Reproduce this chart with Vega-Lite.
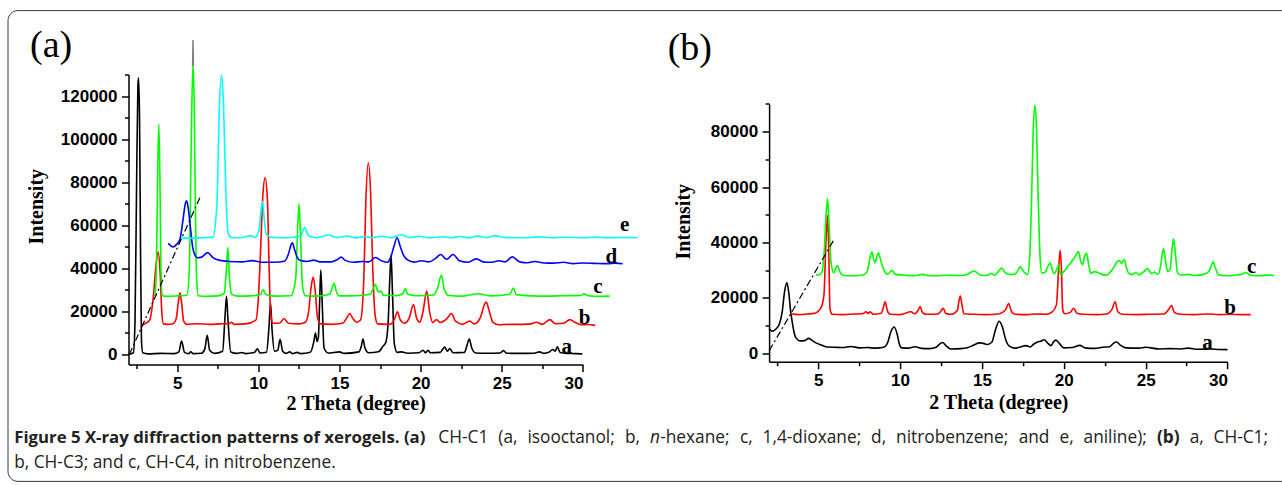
{
  "$schema": "https://vega.github.io/schema/vega-lite/v6.json",
  "padding": {"left": 7.5, "top": 9.5, "right": -2, "bottom": 0},
  "background": "white",
  "bounds": "flush",
  "spacing": 185.6,
  "config": {
    "view": {"stroke": null},
    "axis": {
      "grid": false, "domainColor": "black", "domainWidth": 1.5,
      "tickColor": "black", "tickWidth": 1.5,
      "labelFont": "Liberation Sans", "labelFontWeight": 700, "labelFontSize": 17, "labelColor": "black",
      "titleFont": "Liberation Serif", "titleFontWeight": "bold", "titleFontSize": 20, "titleColor": "black"
    }
  },
  "datasets": {
    "A": [
      {"s":"a","t":2.0,"v":0},{"s":"a","t":2.3,"v":800},{"s":"a","t":2.4,"v":15000},{"s":"a","t":2.5,"v":80000},{"s":"a","t":2.58,"v":125000},{"s":"a","t":2.62,"v":128500},{"s":"a","t":2.68,"v":110000},{"s":"a","t":2.74,"v":50000},{"s":"a","t":2.8,"v":6000},{"s":"a","t":2.88,"v":800},{"s":"a","t":3.2,"v":300},{"s":"a","t":4.0,"v":500},{"s":"a","t":4.8,"v":400},{"s":"a","t":5.1,"v":1200},{"s":"a","t":5.27,"v":6200},{"s":"a","t":5.45,"v":1000},{"s":"a","t":5.7,"v":400},{"s":"a","t":5.84,"v":1300},{"s":"a","t":5.98,"v":400},{"s":"a","t":6.5,"v":600},{"s":"a","t":6.7,"v":2500},{"s":"a","t":6.85,"v":8900},{"s":"a","t":7.0,"v":2000},{"s":"a","t":7.3,"v":500},{"s":"a","t":7.8,"v":1500},{"s":"a","t":7.95,"v":18000},{"s":"a","t":8.04,"v":27000},{"s":"a","t":8.13,"v":16000},{"s":"a","t":8.3,"v":1200},{"s":"a","t":8.7,"v":500},{"s":"a","t":8.96,"v":900},{"s":"a","t":9.2,"v":400},{"s":"a","t":9.75,"v":900},{"s":"a","t":9.95,"v":2600},{"s":"a","t":10.1,"v":700},{"s":"a","t":10.5,"v":1000},{"s":"a","t":10.65,"v":12000},{"s":"a","t":10.75,"v":24000},{"s":"a","t":10.85,"v":11000},{"s":"a","t":11.0,"v":1500},{"s":"a","t":11.2,"v":2000},{"s":"a","t":11.34,"v":7000},{"s":"a","t":11.5,"v":1500},{"s":"a","t":11.7,"v":500},{"s":"a","t":11.94,"v":1200},{"s":"a","t":12.1,"v":400},{"s":"a","t":12.4,"v":1000},{"s":"a","t":12.6,"v":400},{"s":"a","t":13.2,"v":1000},{"s":"a","t":13.42,"v":6000},{"s":"a","t":13.52,"v":10000},{"s":"a","t":13.62,"v":6000},{"s":"a","t":13.7,"v":8000},{"s":"a","t":13.78,"v":25000},{"s":"a","t":13.85,"v":39200},{"s":"a","t":13.93,"v":25000},{"s":"a","t":14.05,"v":3000},{"s":"a","t":14.3,"v":700},{"s":"a","t":15.0,"v":1200},{"s":"a","t":15.3,"v":500},{"s":"a","t":16.2,"v":1200},{"s":"a","t":16.35,"v":4000},{"s":"a","t":16.45,"v":7200},{"s":"a","t":16.57,"v":3000},{"s":"a","t":16.8,"v":800},{"s":"a","t":17.4,"v":1300},{"s":"a","t":17.7,"v":4000},{"s":"a","t":17.85,"v":5500},{"s":"a","t":18.0,"v":15000},{"s":"a","t":18.1,"v":35000},{"s":"a","t":18.18,"v":46000},{"s":"a","t":18.26,"v":30000},{"s":"a","t":18.38,"v":5000},{"s":"a","t":18.55,"v":1000},{"s":"a","t":18.8,"v":1200},{"s":"a","t":19.2,"v":600},{"s":"a","t":19.9,"v":800},{"s":"a","t":20.15,"v":2000},{"s":"a","t":20.3,"v":800},{"s":"a","t":20.45,"v":2000},{"s":"a","t":20.6,"v":800},{"s":"a","t":21.2,"v":1000},{"s":"a","t":21.49,"v":3400},{"s":"a","t":21.65,"v":1500},{"s":"a","t":21.8,"v":2800},{"s":"a","t":22.0,"v":800},{"s":"a","t":22.7,"v":1000},{"s":"a","t":22.85,"v":4000},{"s":"a","t":23.0,"v":7200},{"s":"a","t":23.15,"v":3000},{"s":"a","t":23.4,"v":700},{"s":"a","t":24.0,"v":600},{"s":"a","t":24.9,"v":700},{"s":"a","t":25.11,"v":1800},{"s":"a","t":25.3,"v":600},{"s":"a","t":26.0,"v":500},{"s":"a","t":27.0,"v":600},{"s":"a","t":27.33,"v":1200},{"s":"a","t":27.6,"v":500},{"s":"a","t":27.9,"v":1000},{"s":"a","t":28.15,"v":2300},{"s":"a","t":28.3,"v":1500},{"s":"a","t":28.42,"v":3600},{"s":"a","t":28.6,"v":900},{"s":"a","t":29.0,"v":500},{"s":"a","t":29.5,"v":400},{"s":"a","t":29.96,"v":300},

      {"s":"b","t":2.75,"v":13300},{"s":"b","t":3.0,"v":14200},{"s":"b","t":3.3,"v":16000},{"s":"b","t":3.52,"v":26000},{"s":"b","t":3.7,"v":42000},{"s":"b","t":3.83,"v":47700},{"s":"b","t":3.95,"v":38000},{"s":"b","t":4.05,"v":20000},{"s":"b","t":4.15,"v":14200},{"s":"b","t":4.4,"v":14000},{"s":"b","t":4.75,"v":14300},{"s":"b","t":4.95,"v":17000},{"s":"b","t":5.08,"v":25000},{"s":"b","t":5.17,"v":28600},{"s":"b","t":5.27,"v":24000},{"s":"b","t":5.4,"v":15500},{"s":"b","t":5.6,"v":14000},{"s":"b","t":6.2,"v":14300},{"s":"b","t":7.0,"v":14000},{"s":"b","t":7.6,"v":14200},{"s":"b","t":8.2,"v":14300},{"s":"b","t":8.34,"v":15000},{"s":"b","t":8.5,"v":14000},{"s":"b","t":9.2,"v":14200},{"s":"b","t":9.85,"v":16000},{"s":"b","t":10.0,"v":26000},{"s":"b","t":10.12,"v":45000},{"s":"b","t":10.28,"v":74000},{"s":"b","t":10.42,"v":82000},{"s":"b","t":10.56,"v":72000},{"s":"b","t":10.66,"v":42000},{"s":"b","t":10.76,"v":19000},{"s":"b","t":10.9,"v":14500},{"s":"b","t":11.3,"v":14500},{"s":"b","t":11.59,"v":16700},{"s":"b","t":11.85,"v":14500},{"s":"b","t":12.5,"v":14200},{"s":"b","t":12.9,"v":15000},{"s":"b","t":13.1,"v":20000},{"s":"b","t":13.25,"v":31000},{"s":"b","t":13.38,"v":35900},{"s":"b","t":13.5,"v":30000},{"s":"b","t":13.65,"v":17000},{"s":"b","t":13.85,"v":14200},{"s":"b","t":14.5,"v":14000},{"s":"b","t":15.2,"v":14500},{"s":"b","t":15.45,"v":17000},{"s":"b","t":15.63,"v":19000},{"s":"b","t":15.8,"v":17000},{"s":"b","t":16.05,"v":15000},{"s":"b","t":16.3,"v":16000},{"s":"b","t":16.5,"v":35000},{"s":"b","t":16.62,"v":70000},{"s":"b","t":16.78,"v":89000},{"s":"b","t":16.92,"v":75000},{"s":"b","t":17.05,"v":40000},{"s":"b","t":17.2,"v":18000},{"s":"b","t":17.35,"v":14200},{"s":"b","t":18.0,"v":14000},{"s":"b","t":18.2,"v":14300},{"s":"b","t":18.4,"v":16500},{"s":"b","t":18.57,"v":19800},{"s":"b","t":18.75,"v":16000},{"s":"b","t":19.0,"v":14500},{"s":"b","t":19.3,"v":17000},{"s":"b","t":19.56,"v":23200},{"s":"b","t":19.75,"v":17000},{"s":"b","t":19.95,"v":15000},{"s":"b","t":20.15,"v":20000},{"s":"b","t":20.38,"v":29400},{"s":"b","t":20.55,"v":20000},{"s":"b","t":20.75,"v":14800},{"s":"b","t":20.98,"v":16200},{"s":"b","t":21.2,"v":14800},{"s":"b","t":21.6,"v":16500},{"s":"b","t":21.9,"v":19000},{"s":"b","t":22.15,"v":15500},{"s":"b","t":22.6,"v":14000},{"s":"b","t":23.03,"v":15500},{"s":"b","t":23.3,"v":14200},{"s":"b","t":23.7,"v":17500},{"s":"b","t":23.92,"v":23000},{"s":"b","t":24.05,"v":24300},{"s":"b","t":24.2,"v":21000},{"s":"b","t":24.45,"v":15000},{"s":"b","t":24.8,"v":13800},{"s":"b","t":25.5,"v":14000},{"s":"b","t":26.3,"v":14000},{"s":"b","t":26.8,"v":14200},{"s":"b","t":27.14,"v":15000},{"s":"b","t":27.5,"v":14000},{"s":"b","t":27.96,"v":16200},{"s":"b","t":28.3,"v":14300},{"s":"b","t":28.8,"v":14500},{"s":"b","t":29.2,"v":16200},{"s":"b","t":29.5,"v":15000},{"s":"b","t":29.9,"v":13800},{"s":"b","t":30.3,"v":13900},{"s":"b","t":30.76,"v":13500},

      {"s":"c","t":3.63,"v":27100},{"s":"c","t":3.72,"v":40000},{"s":"c","t":3.8,"v":85000},{"s":"c","t":3.87,"v":107000},{"s":"c","t":3.94,"v":80000},{"s":"c","t":4.0,"v":40000},{"s":"c","t":4.08,"v":27500},{"s":"c","t":4.3,"v":27000},{"s":"c","t":5.0,"v":27200},{"s":"c","t":5.6,"v":27500},{"s":"c","t":5.75,"v":40000},{"s":"c","t":5.85,"v":90000},{"s":"c","t":5.97,"v":135500},{"s":"c","t":6.05,"v":115000},{"s":"c","t":6.12,"v":70000},{"s":"c","t":6.2,"v":35000},{"s":"c","t":6.3,"v":27300},{"s":"c","t":6.8,"v":27000},{"s":"c","t":7.5,"v":27200},{"s":"c","t":7.9,"v":28500},{"s":"c","t":8.02,"v":38000},{"s":"c","t":8.12,"v":49600},{"s":"c","t":8.22,"v":36000},{"s":"c","t":8.35,"v":28000},{"s":"c","t":8.7,"v":27100},{"s":"c","t":9.5,"v":27200},{"s":"c","t":10.15,"v":28000},{"s":"c","t":10.3,"v":30200},{"s":"c","t":10.45,"v":27800},{"s":"c","t":11.0,"v":27100},{"s":"c","t":12.0,"v":27300},{"s":"c","t":12.3,"v":35000},{"s":"c","t":12.43,"v":60000},{"s":"c","t":12.51,"v":70000},{"s":"c","t":12.6,"v":55000},{"s":"c","t":12.72,"v":32000},{"s":"c","t":12.9,"v":27300},{"s":"c","t":13.5,"v":27100},{"s":"c","t":14.4,"v":28000},{"s":"c","t":14.55,"v":31000},{"s":"c","t":14.67,"v":33000},{"s":"c","t":14.8,"v":29500},{"s":"c","t":15.0,"v":27200},{"s":"c","t":16.0,"v":27300},{"s":"c","t":16.9,"v":28000},{"s":"c","t":17.1,"v":31000},{"s":"c","t":17.22,"v":32500},{"s":"c","t":17.38,"v":29000},{"s":"c","t":17.54,"v":29500},{"s":"c","t":17.7,"v":27500},{"s":"c","t":18.5,"v":27300},{"s":"c","t":18.9,"v":28200},{"s":"c","t":19.06,"v":30600},{"s":"c","t":19.2,"v":28000},{"s":"c","t":19.8,"v":27300},{"s":"c","t":20.8,"v":27600},{"s":"c","t":21.05,"v":31000},{"s":"c","t":21.28,"v":36900},{"s":"c","t":21.45,"v":30500},{"s":"c","t":21.7,"v":27500},{"s":"c","t":22.5,"v":27100},{"s":"c","t":23.54,"v":28200},{"s":"c","t":24.3,"v":27200},{"s":"c","t":25.5,"v":28000},{"s":"c","t":25.71,"v":30800},{"s":"c","t":25.9,"v":27800},{"s":"c","t":26.8,"v":27200},{"s":"c","t":27.8,"v":27100},{"s":"c","t":28.8,"v":27300},{"s":"c","t":29.9,"v":27400},{"s":"c","t":30.06,"v":28200},{"s":"c","t":30.3,"v":27300},{"s":"c","t":31.0,"v":27000},{"s":"c","t":31.64,"v":27100},

      {"s":"d","t":4.45,"v":51600},{"s":"d","t":4.6,"v":50500},{"s":"d","t":4.75,"v":49900},{"s":"d","t":4.95,"v":51000},{"s":"d","t":5.17,"v":53500},{"s":"d","t":5.35,"v":62000},{"s":"d","t":5.5,"v":70000},{"s":"d","t":5.58,"v":71300},{"s":"d","t":5.68,"v":68000},{"s":"d","t":5.8,"v":60000},{"s":"d","t":5.95,"v":50000},{"s":"d","t":6.1,"v":46000},{"s":"d","t":6.24,"v":44900},{"s":"d","t":6.5,"v":45200},{"s":"d","t":6.87,"v":47300},{"s":"d","t":7.2,"v":45000},{"s":"d","t":7.63,"v":43700},{"s":"d","t":8.2,"v":43200},{"s":"d","t":9.0,"v":43000},{"s":"d","t":9.6,"v":43600},{"s":"d","t":10.3,"v":42800},{"s":"d","t":11.0,"v":42800},{"s":"d","t":11.6,"v":43300},{"s":"d","t":11.85,"v":46500},{"s":"d","t":12.02,"v":51000},{"s":"d","t":12.1,"v":51900},{"s":"d","t":12.22,"v":49000},{"s":"d","t":12.4,"v":45000},{"s":"d","t":12.6,"v":43600},{"s":"d","t":13.0,"v":43200},{"s":"d","t":13.4,"v":43800},{"s":"d","t":13.8,"v":43000},{"s":"d","t":14.5,"v":43000},{"s":"d","t":14.85,"v":44000},{"s":"d","t":15.1,"v":45200},{"s":"d","t":15.35,"v":43700},{"s":"d","t":15.9,"v":42800},{"s":"d","t":16.4,"v":43200},{"s":"d","t":16.8,"v":43000},{"s":"d","t":17.22,"v":45000},{"s":"d","t":17.6,"v":43500},{"s":"d","t":17.95,"v":42800},{"s":"d","t":18.15,"v":45000},{"s":"d","t":18.35,"v":50000},{"s":"d","t":18.55,"v":54200},{"s":"d","t":18.75,"v":50000},{"s":"d","t":18.95,"v":46000},{"s":"d","t":19.22,"v":43800},{"s":"d","t":19.6,"v":42900},{"s":"d","t":20.04,"v":43500},{"s":"d","t":20.5,"v":43000},{"s":"d","t":20.9,"v":44500},{"s":"d","t":21.24,"v":46400},{"s":"d","t":21.6,"v":44200},{"s":"d","t":22.0,"v":46400},{"s":"d","t":22.4,"v":43500},{"s":"d","t":22.9,"v":42800},{"s":"d","t":23.43,"v":44400},{"s":"d","t":23.9,"v":42900},{"s":"d","t":24.4,"v":42800},{"s":"d","t":24.81,"v":43500},{"s":"d","t":25.2,"v":43000},{"s":"d","t":25.65,"v":45300},{"s":"d","t":26.1,"v":43000},{"s":"d","t":26.6,"v":42600},{"s":"d","t":27.03,"v":43200},{"s":"d","t":27.6,"v":42500},{"s":"d","t":28.2,"v":42400},{"s":"d","t":28.8,"v":42800},{"s":"d","t":29.4,"v":42200},{"s":"d","t":30.0,"v":42500},{"s":"d","t":30.8,"v":42300},{"s":"d","t":31.5,"v":42200},{"s":"d","t":32.0,"v":42400},{"s":"d","t":32.45,"v":42100},

      {"s":"e","t":5.27,"v":54250},{"s":"e","t":5.8,"v":54000},{"s":"e","t":6.5,"v":54200},{"s":"e","t":7.2,"v":54500},{"s":"e","t":7.45,"v":70000},{"s":"e","t":7.6,"v":115000},{"s":"e","t":7.73,"v":129700},{"s":"e","t":7.86,"v":115000},{"s":"e","t":8.0,"v":75000},{"s":"e","t":8.15,"v":56000},{"s":"e","t":8.4,"v":54200},{"s":"e","t":9.0,"v":54300},{"s":"e","t":9.58,"v":55200},{"s":"e","t":9.8,"v":54300},{"s":"e","t":10.05,"v":58000},{"s":"e","t":10.18,"v":68000},{"s":"e","t":10.26,"v":71000},{"s":"e","t":10.35,"v":64000},{"s":"e","t":10.5,"v":55500},{"s":"e","t":10.9,"v":54300},{"s":"e","t":11.8,"v":54200},{"s":"e","t":12.6,"v":55000},{"s":"e","t":12.86,"v":58900},{"s":"e","t":13.1,"v":55000},{"s":"e","t":13.6,"v":54200},{"s":"e","t":14.36,"v":55500},{"s":"e","t":14.8,"v":54300},{"s":"e","t":15.5,"v":55000},{"s":"e","t":16.0,"v":54200},{"s":"e","t":16.6,"v":54800},{"s":"e","t":17.0,"v":54200},{"s":"e","t":17.6,"v":54900},{"s":"e","t":18.2,"v":54200},{"s":"e","t":18.8,"v":55600},{"s":"e","t":19.3,"v":54300},{"s":"e","t":19.9,"v":54900},{"s":"e","t":20.5,"v":54200},{"s":"e","t":21.4,"v":54700},{"s":"e","t":21.9,"v":54200},{"s":"e","t":22.4,"v":54800},{"s":"e","t":23.0,"v":54200},{"s":"e","t":23.5,"v":55000},{"s":"e","t":24.1,"v":54300},{"s":"e","t":24.6,"v":55200},{"s":"e","t":25.2,"v":54300},{"s":"e","t":26.5,"v":54200},{"s":"e","t":27.3,"v":54600},{"s":"e","t":28.0,"v":54200},{"s":"e","t":29.0,"v":54400},{"s":"e","t":30.0,"v":54200},{"s":"e","t":30.8,"v":54500},{"s":"e","t":31.5,"v":54200},{"s":"e","t":32.5,"v":54300},{"s":"e","t":33.35,"v":54200}
    ],
    "B": [
      {"s":"a","t":2.0,"v":9000},{"s":"a","t":2.1,"v":8300},{"s":"a","t":2.21,"v":8000},{"s":"a","t":2.4,"v":8700},{"s":"a","t":2.62,"v":10500},{"s":"a","t":2.8,"v":15000},{"s":"a","t":2.95,"v":22500},{"s":"a","t":3.09,"v":25500},{"s":"a","t":3.2,"v":22000},{"s":"a","t":3.32,"v":15000},{"s":"a","t":3.44,"v":10400},{"s":"a","t":3.55,"v":7000},{"s":"a","t":3.64,"v":5600},{"s":"a","t":3.9,"v":4500},{"s":"a","t":4.15,"v":4600},{"s":"a","t":4.41,"v":5400},{"s":"a","t":4.6,"v":4800},{"s":"a","t":4.86,"v":3800},{"s":"a","t":5.2,"v":3000},{"s":"a","t":5.57,"v":2300},{"s":"a","t":6.0,"v":2200},{"s":"a","t":6.5,"v":2100},{"s":"a","t":7.0,"v":2500},{"s":"a","t":7.5,"v":2000},{"s":"a","t":8.0,"v":2100},{"s":"a","t":8.5,"v":1900},{"s":"a","t":9.0,"v":2200},{"s":"a","t":9.25,"v":4000},{"s":"a","t":9.45,"v":8000},{"s":"a","t":9.64,"v":9500},{"s":"a","t":9.82,"v":7000},{"s":"a","t":9.95,"v":3500},{"s":"a","t":10.1,"v":2000},{"s":"a","t":10.5,"v":1900},{"s":"a","t":10.9,"v":2400},{"s":"a","t":11.3,"v":1800},{"s":"a","t":11.8,"v":1700},{"s":"a","t":12.2,"v":2200},{"s":"a","t":12.45,"v":3500},{"s":"a","t":12.6,"v":3900},{"s":"a","t":12.8,"v":2800},{"s":"a","t":13.1,"v":1600},{"s":"a","t":13.71,"v":1700},{"s":"a","t":14.1,"v":2000},{"s":"a","t":14.5,"v":3000},{"s":"a","t":14.84,"v":3800},{"s":"a","t":15.1,"v":3600},{"s":"a","t":15.34,"v":3200},{"s":"a","t":15.6,"v":4000},{"s":"a","t":15.85,"v":9000},{"s":"a","t":16.05,"v":11600},{"s":"a","t":16.25,"v":9500},{"s":"a","t":16.45,"v":5000},{"s":"a","t":16.67,"v":2600},{"s":"a","t":17.0,"v":1900},{"s":"a","t":17.4,"v":2400},{"s":"a","t":17.68,"v":2800},{"s":"a","t":17.95,"v":2300},{"s":"a","t":18.15,"v":3300},{"s":"a","t":18.4,"v":4100},{"s":"a","t":18.6,"v":4400},{"s":"a","t":18.8,"v":4900},{"s":"a","t":19.0,"v":3800},{"s":"a","t":19.21,"v":2800},{"s":"a","t":19.38,"v":4200},{"s":"a","t":19.51,"v":4800},{"s":"a","t":19.7,"v":3800},{"s":"a","t":20.0,"v":2000},{"s":"a","t":20.5,"v":2100},{"s":"a","t":20.98,"v":2900},{"s":"a","t":21.3,"v":2000},{"s":"a","t":21.9,"v":1800},{"s":"a","t":22.37,"v":2200},{"s":"a","t":22.8,"v":2400},{"s":"a","t":23.05,"v":3700},{"s":"a","t":23.22,"v":4100},{"s":"a","t":23.45,"v":3000},{"s":"a","t":23.8,"v":2000},{"s":"a","t":24.6,"v":1900},{"s":"a","t":25.0,"v":2200},{"s":"a","t":25.83,"v":1600},{"s":"a","t":26.5,"v":1700},{"s":"a","t":27.15,"v":1600},{"s":"a","t":27.6,"v":1900},{"s":"a","t":28.2,"v":1500},{"s":"a","t":29.0,"v":1600},{"s":"a","t":29.5,"v":1400},{"s":"a","t":30.0,"v":1350},

      {"s":"b","t":3.33,"v":14300},{"s":"b","t":3.8,"v":14000},{"s":"b","t":4.3,"v":14200},{"s":"b","t":4.8,"v":14500},{"s":"b","t":5.17,"v":16500},{"s":"b","t":5.35,"v":21000},{"s":"b","t":5.47,"v":40000},{"s":"b","t":5.57,"v":49800},{"s":"b","t":5.64,"v":38000},{"s":"b","t":5.72,"v":16000},{"s":"b","t":5.85,"v":14100},{"s":"b","t":6.5,"v":14000},{"s":"b","t":7.2,"v":14200},{"s":"b","t":7.7,"v":14300},{"s":"b","t":7.92,"v":15000},{"s":"b","t":8.05,"v":14400},{"s":"b","t":8.18,"v":15000},{"s":"b","t":8.35,"v":14100},{"s":"b","t":8.85,"v":14500},{"s":"b","t":8.98,"v":16500},{"s":"b","t":9.09,"v":18600},{"s":"b","t":9.22,"v":15500},{"s":"b","t":9.4,"v":14100},{"s":"b","t":10.0,"v":14000},{"s":"b","t":10.66,"v":15000},{"s":"b","t":10.9,"v":14300},{"s":"b","t":11.1,"v":15500},{"s":"b","t":11.23,"v":16900},{"s":"b","t":11.36,"v":14800},{"s":"b","t":11.6,"v":14100},{"s":"b","t":12.3,"v":14200},{"s":"b","t":12.5,"v":15300},{"s":"b","t":12.64,"v":16300},{"s":"b","t":12.78,"v":14500},{"s":"b","t":13.1,"v":14100},{"s":"b","t":13.5,"v":15500},{"s":"b","t":13.6,"v":19000},{"s":"b","t":13.68,"v":20700},{"s":"b","t":13.78,"v":17500},{"s":"b","t":13.9,"v":14300},{"s":"b","t":14.5,"v":14100},{"s":"b","t":15.2,"v":14000},{"s":"b","t":16.0,"v":14200},{"s":"b","t":16.45,"v":15800},{"s":"b","t":16.63,"v":18000},{"s":"b","t":16.8,"v":15200},{"s":"b","t":17.0,"v":14100},{"s":"b","t":17.8,"v":14000},{"s":"b","t":18.3,"v":14200},{"s":"b","t":18.9,"v":14100},{"s":"b","t":19.3,"v":15000},{"s":"b","t":19.55,"v":17500},{"s":"b","t":19.68,"v":30000},{"s":"b","t":19.78,"v":37200},{"s":"b","t":19.86,"v":30000},{"s":"b","t":19.93,"v":16000},{"s":"b","t":20.05,"v":14300},{"s":"b","t":20.4,"v":14800},{"s":"b","t":20.6,"v":16300},{"s":"b","t":20.8,"v":14500},{"s":"b","t":21.2,"v":14100},{"s":"b","t":22.0,"v":14000},{"s":"b","t":22.6,"v":14200},{"s":"b","t":22.95,"v":16000},{"s":"b","t":23.14,"v":18600},{"s":"b","t":23.3,"v":15000},{"s":"b","t":23.6,"v":14100},{"s":"b","t":24.5,"v":14000},{"s":"b","t":25.2,"v":14100},{"s":"b","t":26.1,"v":14200},{"s":"b","t":26.4,"v":15800},{"s":"b","t":26.58,"v":17300},{"s":"b","t":26.75,"v":14800},{"s":"b","t":27.1,"v":14100},{"s":"b","t":28.0,"v":14000},{"s":"b","t":28.8,"v":14200},{"s":"b","t":29.5,"v":14000},{"s":"b","t":30.2,"v":14100},{"s":"b","t":30.8,"v":14000},{"s":"b","t":31.42,"v":14000},

      {"s":"c","t":4.86,"v":28500},{"s":"c","t":5.0,"v":28300},{"s":"c","t":5.2,"v":29000},{"s":"c","t":5.37,"v":37000},{"s":"c","t":5.48,"v":50000},{"s":"c","t":5.57,"v":55800},{"s":"c","t":5.66,"v":47000},{"s":"c","t":5.78,"v":33000},{"s":"c","t":5.95,"v":29000},{"s":"c","t":6.05,"v":30500},{"s":"c","t":6.18,"v":31700},{"s":"c","t":6.32,"v":29500},{"s":"c","t":6.5,"v":28200},{"s":"c","t":7.0,"v":28000},{"s":"c","t":7.5,"v":28100},{"s":"c","t":7.85,"v":28600},{"s":"c","t":8.02,"v":30000},{"s":"c","t":8.15,"v":34000},{"s":"c","t":8.28,"v":36600},{"s":"c","t":8.38,"v":34000},{"s":"c","t":8.48,"v":32700},{"s":"c","t":8.58,"v":35000},{"s":"c","t":8.67,"v":36300},{"s":"c","t":8.8,"v":34000},{"s":"c","t":8.93,"v":31300},{"s":"c","t":9.1,"v":29200},{"s":"c","t":9.25,"v":28600},{"s":"c","t":9.5,"v":30000},{"s":"c","t":9.7,"v":28500},{"s":"c","t":10.3,"v":28200},{"s":"c","t":10.9,"v":28000},{"s":"c","t":11.37,"v":28500},{"s":"c","t":11.7,"v":28100},{"s":"c","t":12.2,"v":28000},{"s":"c","t":12.8,"v":28200},{"s":"c","t":13.4,"v":28100},{"s":"c","t":14.0,"v":28300},{"s":"c","t":14.53,"v":29700},{"s":"c","t":14.9,"v":28300},{"s":"c","t":15.3,"v":28100},{"s":"c","t":15.55,"v":28800},{"s":"c","t":15.8,"v":28200},{"s":"c","t":16.0,"v":29500},{"s":"c","t":16.2,"v":30800},{"s":"c","t":16.45,"v":29000},{"s":"c","t":16.8,"v":28400},{"s":"c","t":17.1,"v":29000},{"s":"c","t":17.34,"v":31200},{"s":"c","t":17.55,"v":29500},{"s":"c","t":17.79,"v":28400},{"s":"c","t":17.92,"v":35000},{"s":"c","t":18.03,"v":55000},{"s":"c","t":18.13,"v":80000},{"s":"c","t":18.23,"v":89600},{"s":"c","t":18.33,"v":82000},{"s":"c","t":18.43,"v":58000},{"s":"c","t":18.55,"v":35000},{"s":"c","t":18.66,"v":29000},{"s":"c","t":18.85,"v":29200},{"s":"c","t":19.0,"v":31000},{"s":"c","t":19.17,"v":32600},{"s":"c","t":19.3,"v":30000},{"s":"c","t":19.42,"v":28800},{"s":"c","t":19.55,"v":30000},{"s":"c","t":19.68,"v":32000},{"s":"c","t":19.8,"v":28500},{"s":"c","t":20.0,"v":29500},{"s":"c","t":20.2,"v":31000},{"s":"c","t":20.43,"v":32700},{"s":"c","t":20.7,"v":35000},{"s":"c","t":20.9,"v":36700},{"s":"c","t":21.02,"v":33500},{"s":"c","t":21.14,"v":32000},{"s":"c","t":21.27,"v":35000},{"s":"c","t":21.39,"v":36100},{"s":"c","t":21.52,"v":32000},{"s":"c","t":21.66,"v":28800},{"s":"c","t":21.85,"v":29500},{"s":"c","t":22.05,"v":29300},{"s":"c","t":22.3,"v":28500},{"s":"c","t":22.6,"v":28200},{"s":"c","t":22.9,"v":29800},{"s":"c","t":23.08,"v":31300},{"s":"c","t":23.25,"v":33000},{"s":"c","t":23.39,"v":33500},{"s":"c","t":23.52,"v":32500},{"s":"c","t":23.69,"v":33800},{"s":"c","t":23.82,"v":31000},{"s":"c","t":23.95,"v":29000},{"s":"c","t":24.15,"v":28400},{"s":"c","t":24.4,"v":29200},{"s":"c","t":24.6,"v":28300},{"s":"c","t":24.85,"v":29300},{"s":"c","t":25.12,"v":30600},{"s":"c","t":25.35,"v":28800},{"s":"c","t":25.55,"v":29300},{"s":"c","t":25.75,"v":28500},{"s":"c","t":25.9,"v":31000},{"s":"c","t":26.02,"v":36000},{"s":"c","t":26.09,"v":37700},{"s":"c","t":26.2,"v":34000},{"s":"c","t":26.34,"v":29500},{"s":"c","t":26.5,"v":30500},{"s":"c","t":26.62,"v":38000},{"s":"c","t":26.7,"v":41300},{"s":"c","t":26.8,"v":37000},{"s":"c","t":26.95,"v":29000},{"s":"c","t":27.2,"v":28200},{"s":"c","t":27.6,"v":28500},{"s":"c","t":28.0,"v":28100},{"s":"c","t":28.5,"v":28400},{"s":"c","t":28.85,"v":29500},{"s":"c","t":29.0,"v":31500},{"s":"c","t":29.12,"v":33000},{"s":"c","t":29.25,"v":31000},{"s":"c","t":29.45,"v":28400},{"s":"c","t":29.9,"v":28000},{"s":"c","t":30.4,"v":28200},{"s":"c","t":30.9,"v":28600},{"s":"c","t":31.12,"v":29200},{"s":"c","t":31.4,"v":28200},{"s":"c","t":32.0,"v":28000},{"s":"c","t":32.5,"v":28300},{"s":"c","t":32.85,"v":28000}
    ]
  },
  "hconcat": [
    {
      "width": 454.4,
      "height": 290,
      "resolve": {"axis": {"x": "independent", "y": "independent"}},
      "layer": [
        {
          "data": {"values": [{"t1": -5.425, "t2": 73.18, "v1": 159670, "v2": -58930}]},
          "mark": {"type": "rect", "fill": null, "stroke": "#3a3a3a", "strokeWidth": 1, "cornerRadius": 10, "cornerRadiusTopRight": 0, "cornerRadiusBottomRight": 0},
          "encoding": {
            "x": {"field": "t1", "type": "quantitative", "scale": {"domain": [2, 30], "nice": false, "zero": false}, "axis": null},
            "x2": {"field": "t2"},
            "y": {"field": "v1", "type": "quantitative", "scale": {"domain": [-4650, 130000], "nice": false, "zero": false}, "axis": null},
            "y2": {"field": "v2"}
          }
        },
        {
          "data": {"name": "A"},
          "mark": {"type": "line", "strokeWidth": 1.6, "interpolate": "monotone"},
          "encoding": {
            "x": {"field": "t", "type": "quantitative", "scale": {"domain": [2, 30], "nice": false, "zero": false},
              "axis": {"orient": "bottom", "title": "2 Theta (degree)", "values": [5,10,15,20,25,30],
                "tickSize": 7, "labelPadding": 4, "titlePadding": 2, "labelFontWeight": 700, "labelFont": "Liberation Sans"}},
            "y": {"field": "v", "type": "quantitative", "scale": {"domain": [-4650, 130000], "nice": false, "zero": false},
              "axis": {"orient": "left", "title": "Intensity", "values": [0,20000,40000,60000,80000,100000,120000], "format": "d",
                "tickSize": 7, "labelPadding": 4.5, "titlePadding": 13.5, "titleY": 131.7, "labelFontWeight": 700, "labelFont": "Liberation Sans"}},
            "color": {"field": "s", "type": "nominal", "scale": {"domain": ["a","b","c","d","e"], "range": ["#000000","#ff0000","#00ff00","#0000ff","#00ffff"]}, "legend": null}
          }
        },
        {
          "data": {"values": [{"t": 5.95, "v": 134000}, {"t": 5.975, "v": 146000}, {"t": 6.0, "v": 134000}]},
          "mark": {"type": "line", "strokeWidth": 1.5, "color": "#808080"},
          "encoding": {
            "x": {"field": "t", "type": "quantitative", "scale": {"domain": [2, 30], "nice": false, "zero": false}, "axis": null},
            "y": {"field": "v", "type": "quantitative", "scale": {"domain": [-4650, 130000], "nice": false, "zero": false}, "axis": null}
          }
        },
        {
          "data": {"values": [{"t": 2.05, "v": 0}, {"t": 6.4, "v": 72800}]},
          "mark": {"type": "line", "strokeWidth": 1.2, "color": "black", "strokeDash": [7, 3, 2, 3]},
          "encoding": {
            "x": {"field": "t", "type": "quantitative", "scale": {"domain": [2, 30], "nice": false, "zero": false},
              "axis": {"orient": "bottom", "title": null, "values": [2.5,7.5,12.5,17.5,22.5,27.5], "labels": false, "domain": false, "tickSize": 4}},
            "y": {"field": "v", "type": "quantitative", "scale": {"domain": [-4650, 130000], "nice": false, "zero": false},
              "axis": {"orient": "left", "title": null, "values": [10000,30000,50000,70000,90000,110000,130000], "labels": false, "domain": false, "tickSize": 4}}
          }
        },
        {
          "data": {"values": [{"t": 29.0, "v": 740, "lab": "a"}, {"t": 30.1, "v": 14100, "lab": "b"}, {"t": 30.92, "v": 28650, "lab": "c"}, {"t": 31.75, "v": 42600, "lab": "d"}, {"t": 32.57, "v": 57350, "lab": "e"}]},
          "mark": {"type": "text", "font": "Liberation Serif", "fontWeight": "bold", "fontSize": 21, "align": "center", "baseline": "alphabetic", "color": "black"},
          "encoding": {
            "x": {"field": "t", "type": "quantitative", "scale": {"domain": [2, 30], "nice": false, "zero": false}, "axis": null},
            "y": {"field": "v", "type": "quantitative", "scale": {"domain": [-4650, 130000], "nice": false, "zero": false}, "axis": null},
            "text": {"field": "lab"}
          }
        },
        {
          "data": {"values": [{"t": -4.07, "v": 138270, "lab": "(a)"}]},
          "mark": {"type": "text", "font": "Liberation Serif", "fontSize": 38, "align": "left", "baseline": "alphabetic", "color": "black"},
          "encoding": {
            "x": {"field": "t", "type": "quantitative", "scale": {"domain": [2, 30], "nice": false, "zero": false}, "axis": null},
            "y": {"field": "v", "type": "quantitative", "scale": {"domain": [-4650, 130000], "nice": false, "zero": false}, "axis": null},
            "text": {"field": "lab"}
          }
        },
        {
          "data": {"values": [{"t": -5.043, "v": -41254, "txt": "Figure 5 X-ray diffraction patterns of xerogels. (a)"}]},
          "mark": {"type": "text", "font": "Open Sans", "fontWeight": "bold", "fontSize": 16.8, "align": "left", "baseline": "alphabetic", "color": "#222222"},
          "encoding": {
            "x": {"field": "t", "type": "quantitative", "scale": {"domain": [2, 30], "nice": false, "zero": false}, "axis": null},
            "y": {"field": "v", "type": "quantitative", "scale": {"domain": [-4650, 130000], "nice": false, "zero": false}, "axis": null},
            "text": {"field": "txt"}
          }
        },
        {
          "data": {"values": [{"t": 65.37, "v": -41254, "txt": "(b)"}]},
          "mark": {"type": "text", "font": "Open Sans", "fontWeight": "bold", "fontSize": 17.3, "align": "left", "baseline": "alphabetic", "color": "#222222"},
          "encoding": {
            "x": {"field": "t", "type": "quantitative", "scale": {"domain": [2, 30], "nice": false, "zero": false}, "axis": null},
            "y": {"field": "v", "type": "quantitative", "scale": {"domain": [-4650, 130000], "nice": false, "zero": false}, "axis": null},
            "text": {"field": "txt"}
          }
        },
        {
          "data": {"values": [
            {"t": 21.09, "v": -41254, "txt": "CH-C1"},
            {"t": 24.79, "v": -41254, "txt": "(a,"},
            {"t": 26.58, "v": -41254, "txt": "isooctanol;"},
            {"t": 32.59, "v": -41254, "txt": "b,"},
            {"t": 34.76, "v": -41254, "txt": "-hexane;"},
            {"t": 39.68, "v": -41254, "txt": "c,"},
            {"t": 41.07, "v": -41254, "txt": "1,4-dioxane;"},
            {"t": 47.76, "v": -41254, "txt": "d,"},
            {"t": 49.30, "v": -41254, "txt": "nitrobenzene;"},
            {"t": 56.85, "v": -41254, "txt": "and"},
            {"t": 59.37, "v": -41254, "txt": "e,"},
            {"t": 60.85, "v": -41254, "txt": "aniline);"},
            {"t": 67.39, "v": -41254, "txt": "a,"},
            {"t": 68.86, "v": -41254, "txt": "CH-C1;"},
            {"t": -5.043, "v": -52880, "txt": "b, CH-C3; and c, CH-C4, in nitrobenzene."}
          ]},
          "mark": {"type": "text", "font": "Open Sans", "fontSize": 17.3, "align": "left", "baseline": "alphabetic", "color": "#222222"},
          "encoding": {
            "x": {"field": "t", "type": "quantitative", "scale": {"domain": [2, 30], "nice": false, "zero": false}, "axis": null},
            "y": {"field": "v", "type": "quantitative", "scale": {"domain": [-4650, 130000], "nice": false, "zero": false}, "axis": null},
            "text": {"field": "txt"}
          }
        },
        {
          "data": {"values": [{"t": 34.13, "v": -41254, "txt": "n"}]},
          "mark": {"type": "text", "font": "Open Sans", "fontStyle": "italic", "fontSize": 17.3, "align": "left", "baseline": "alphabetic", "color": "#222222"},
          "encoding": {
            "x": {"field": "t", "type": "quantitative", "scale": {"domain": [2, 30], "nice": false, "zero": false}, "axis": null},
            "y": {"field": "v", "type": "quantitative", "scale": {"domain": [-4650, 130000], "nice": false, "zero": false}, "axis": null},
            "text": {"field": "txt"}
          }
        }
      ]
    },
    {
      "width": 458.4,
      "height": 287.2,
      "resolve": {"axis": {"x": "independent", "y": "independent"}},
      "layer": [
        {
          "data": {"name": "B"},
          "mark": {"type": "line", "strokeWidth": 1.6, "interpolate": "monotone"},
          "encoding": {
            "x": {"field": "t", "type": "quantitative", "scale": {"domain": [2, 30], "nice": false, "zero": false},
              "axis": {"orient": "bottom", "title": "2 Theta (degree)", "values": [5,10,15,20,25,30],
                "tickSize": 7, "labelPadding": 4, "titlePadding": 4, "labelFontWeight": 700, "labelFont": "Liberation Sans"}},
            "y": {"field": "v", "type": "quantitative", "scale": {"domain": [-3000, 90000], "range": [287.2, 29.4], "nice": false, "zero": false},
              "axis": {"orient": "left", "title": "Intensity", "values": [0,20000,40000,60000,80000], "format": "d",
                "tickSize": 7, "labelPadding": 4.5, "titlePadding": 16.5, "titleY": 146.7, "labelFontWeight": 700, "labelFont": "Liberation Sans"}},
            "color": {"field": "s", "type": "nominal", "scale": {"domain": ["a","b","c"], "range": ["#000000","#ff0000","#00ff00"]}, "legend": null}
          }
        },
        {
          "data": {"values": [{"t": 2.01, "v": 1000}, {"t": 5.94, "v": 40800}]},
          "mark": {"type": "line", "strokeWidth": 1.2, "color": "black", "strokeDash": [7, 3, 2, 3]},
          "encoding": {
            "x": {"field": "t", "type": "quantitative", "scale": {"domain": [2, 30], "nice": false, "zero": false},
              "axis": {"orient": "bottom", "title": null, "values": [2.5,7.5,12.5,17.5,22.5,27.5], "labels": false, "domain": false, "tickSize": 4}},
            "y": {"field": "v", "type": "quantitative", "scale": {"domain": [-3000, 90000], "range": [287.2, 29.4], "nice": false, "zero": false},
              "axis": {"orient": "left", "title": null, "values": [10000,30000,50000,70000,90000], "labels": false, "domain": false, "tickSize": 4}}
          }
        },
        {
          "data": {"values": [{"t": 28.78, "v": 1440, "lab": "a"}, {"t": 30.16, "v": 14300, "lab": "b"}, {"t": 31.47, "v": 29100, "lab": "c"}]},
          "mark": {"type": "text", "font": "Liberation Serif", "fontWeight": "bold", "fontSize": 21, "align": "center", "baseline": "alphabetic", "color": "black"},
          "encoding": {
            "x": {"field": "t", "type": "quantitative", "scale": {"domain": [2, 30], "nice": false, "zero": false}, "axis": null},
            "y": {"field": "v", "type": "quantitative", "scale": {"domain": [-3000, 90000], "range": [287.2, 29.4], "nice": false, "zero": false}, "axis": null},
            "text": {"field": "lab"}
          }
        },
        {
          "data": {"values": [{"t": -4.195, "v": 105880, "lab": "(b)"}]},
          "mark": {"type": "text", "font": "Liberation Serif", "fontSize": 38, "align": "left", "baseline": "alphabetic", "color": "black"},
          "encoding": {
            "x": {"field": "t", "type": "quantitative", "scale": {"domain": [2, 30], "nice": false, "zero": false}, "axis": null},
            "y": {"field": "v", "type": "quantitative", "scale": {"domain": [-3000, 90000], "range": [287.2, 29.4], "nice": false, "zero": false}, "axis": null},
            "text": {"field": "lab"}
          }
        }
      ]
    }
  ]
}
